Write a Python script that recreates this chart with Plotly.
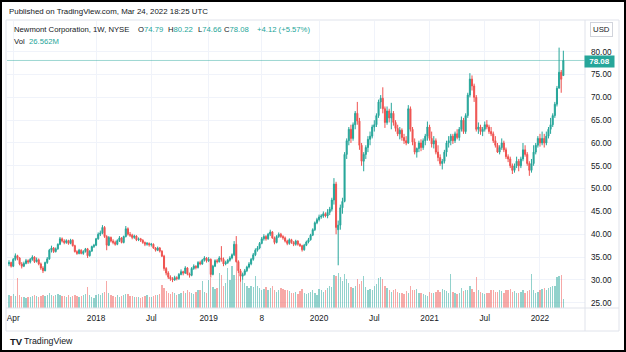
import pandas as pd
import plotly.graph_objects as go

# ---------------- data (weekly NEM) ----------------
start_week = "2017-03-20"
n_weeks = 262

opens = [
 33.5, 33.8, 33.0, 34.5, 35.3, 34.8, 33.5, 33.0, 33.6, 34.2,
 33.9, 34.5, 35.0, 34.0, 34.4, 33.5, 32.6, 32.0, 33.8, 34.6,
 36.5, 37.0, 36.2, 36.8, 37.8, 39.0, 38.5, 38.2, 38.6, 38.0,
 38.7, 37.5, 36.2, 35.8, 36.5, 35.8, 36.2, 36.8, 35.3, 36.3,
 37.3, 37.6, 39.0, 40.0, 40.3, 41.5, 39.5, 37.6, 39.3, 38.5,
 38.2, 37.8, 38.6, 39.2, 38.2, 39.5, 41.2, 40.0, 39.8, 39.3,
 39.6, 38.8, 39.0, 38.7, 38.2, 37.8, 38.0, 37.7, 37.8, 37.0,
 36.5, 37.0, 36.3, 35.2, 32.5, 31.5, 30.6, 30.2, 30.0, 30.5,
 30.3, 31.2, 31.8, 31.5, 32.6, 31.3, 31.0, 32.5, 33.0, 32.7,
 33.8, 33.5, 34.3, 34.8, 34.2, 34.5, 31.2, 33.0, 34.2, 34.0,
 34.8, 34.5, 33.5, 33.8, 34.3, 34.8, 35.5, 37.8, 34.0, 32.0,
 30.8, 31.2, 32.0, 32.8, 33.5, 34.5, 35.5, 36.5, 37.0, 38.0,
 39.0, 39.5, 39.0, 40.0, 40.5, 39.2, 38.2, 39.5, 40.0, 39.5,
 39.2, 38.5, 38.0, 38.8, 38.2, 37.8, 38.5, 37.8, 37.5, 36.6,
 37.6, 38.3, 38.8, 39.8, 41.0, 42.5, 43.2, 43.8, 44.0, 44.5,
 44.0, 44.8, 45.5, 47.5, 51.0, 41.0, 42.0, 45.8, 47.2, 57.5,
 60.5, 63.0, 61.0, 64.0, 66.5, 64.8, 59.5, 56.0, 57.5, 59.0,
 60.8, 61.5, 63.5, 64.0, 66.0, 69.0, 69.8, 67.5, 64.5, 67.0,
 65.5, 66.5, 64.5, 63.2, 62.0, 62.8, 61.2, 60.5, 60.0, 67.5,
 63.0, 60.2, 58.0, 58.8, 60.0, 59.0, 60.5, 61.5, 63.5, 61.0,
 59.8, 60.5, 58.0, 56.8, 55.5, 56.0, 58.0, 60.0, 60.5, 61.5,
 60.5, 62.0, 61.2, 63.0, 65.0, 62.5, 66.0, 70.5, 74.0, 72.5,
 70.0, 63.0, 63.5, 62.5, 63.0, 64.0, 63.5, 62.5, 62.0, 60.5,
 59.5, 58.0, 59.0, 60.0, 58.5, 57.0, 56.5, 55.0, 54.0, 55.0,
 56.0, 55.0, 56.5, 58.5, 57.5, 55.5, 54.0, 55.5, 58.0, 59.5,
 61.0, 60.0, 61.0, 60.0, 61.5, 63.0, 64.0, 66.0, 68.5, 72.0,
 75.5, 74.79]

highs = [
 34.3, 34.0, 34.8, 35.8, 35.5, 35.0, 33.9, 34.0, 34.6, 34.5,
 34.8, 35.4, 35.2, 34.9, 34.7, 33.8, 33.0, 34.0, 35.0, 36.8,
 37.5, 37.2, 37.1, 38.0, 39.4, 39.3, 38.9, 38.9, 38.8, 39.0,
 38.9, 37.7, 36.5, 36.8, 36.7, 36.5, 37.0, 37.0, 36.5, 37.5,
 37.9, 39.2, 40.4, 40.8, 42.0, 41.8, 39.8, 39.6, 39.5, 38.9,
 38.6, 38.9, 39.6, 39.4, 39.7, 41.8, 41.5, 40.5, 40.1, 39.9,
 39.8, 39.3, 39.2, 38.9, 38.4, 38.3, 38.2, 38.1, 38.0, 37.2,
 37.3, 37.2, 36.5, 35.5, 32.8, 31.9, 31.0, 30.6, 30.9, 30.8,
 31.5, 32.3, 32.0, 33.0, 32.8, 31.6, 32.8, 33.4, 33.2, 34.1,
 34.2, 34.6, 35.2, 35.0, 35.0, 34.7, 33.3, 34.5, 34.6, 35.2,
 37.4, 34.9, 34.2, 34.6, 35.2, 35.8, 38.5, 39.6, 34.3, 32.4,
 31.6, 32.4, 33.1, 33.9, 34.8, 35.9, 36.9, 37.4, 38.3, 39.4,
 40.0, 39.8, 40.3, 41.0, 40.7, 39.5, 39.8, 40.4, 40.3, 39.8,
 39.5, 38.8, 39.1, 39.0, 38.5, 38.8, 38.7, 38.0, 37.7, 37.9,
 38.6, 39.2, 40.1, 41.3, 42.8, 43.6, 44.3, 44.4, 45.0, 44.8,
 45.5, 46.0, 48.0, 52.3, 51.5, 43.0, 46.5, 48.0, 58.0, 61.0,
 63.5, 64.0, 64.5, 67.0, 69.0, 65.5, 60.0, 58.0, 59.5, 61.5,
 62.5, 64.0, 65.0, 66.5, 69.5, 70.5, 72.2, 68.0, 68.0, 67.5,
 68.8, 67.0, 65.0, 64.0, 63.5, 63.2, 62.0, 61.5, 68.3, 68.0,
 63.5, 61.0, 59.0, 60.5, 60.8, 61.0, 62.0, 64.7, 64.0, 62.5,
 61.5, 61.0, 59.5, 57.5, 56.5, 58.5, 60.5, 61.5, 62.0, 62.0,
 62.5, 63.0, 63.5, 65.8, 65.5, 66.5, 71.0, 75.3, 74.8, 73.0,
 70.5, 64.5, 64.0, 63.5, 64.7, 65.0, 64.0, 63.5, 62.5, 61.5,
 60.0, 59.5, 61.0, 60.5, 59.0, 57.5, 57.0, 55.5, 55.5, 57.0,
 56.5, 57.0, 60.0, 59.5, 58.0, 56.0, 56.5, 59.5, 60.0, 61.5,
 62.0, 62.5, 62.0, 62.5, 63.5, 65.5, 66.5, 69.0, 72.5, 80.9,
 76.0, 80.22]

lows = [
 33.0, 32.7, 32.8, 34.2, 34.3, 33.2, 32.5, 32.8, 33.4, 33.5,
 33.6, 34.2, 33.7, 33.8, 33.2, 32.2, 31.5, 31.9, 33.5, 34.4,
 36.0, 35.9, 36.0, 36.6, 37.6, 38.2, 37.8, 37.9, 37.7, 37.8,
 37.3, 36.0, 35.5, 35.6, 35.6, 35.5, 36.0, 34.8, 35.1, 36.2,
 37.0, 37.4, 38.8, 39.6, 40.0, 39.2, 36.5, 37.4, 38.2, 37.8,
 37.5, 37.6, 38.3, 38.0, 38.0, 39.3, 39.7, 39.4, 38.9, 39.0,
 38.5, 38.5, 38.3, 37.9, 37.4, 37.5, 37.3, 37.3, 36.8, 36.2,
 36.3, 36.0, 35.0, 32.0, 31.0, 30.2, 29.8, 29.5, 29.8, 29.9,
 30.0, 31.0, 31.0, 31.3, 31.0, 30.5, 30.8, 32.2, 32.3, 32.5,
 33.2, 33.3, 34.0, 33.8, 33.9, 30.5, 31.0, 32.8, 33.6, 33.8,
 34.0, 33.0, 33.2, 33.5, 34.0, 34.5, 35.2, 33.8, 31.5, 29.6,
 30.0, 30.9, 31.7, 32.5, 33.2, 34.2, 35.2, 36.2, 36.7, 37.8,
 38.6, 38.6, 38.8, 39.6, 39.0, 37.8, 38.0, 39.2, 39.2, 38.8,
 38.2, 37.6, 37.7, 37.9, 37.4, 37.5, 37.5, 37.2, 36.2, 36.4,
 37.4, 38.0, 38.6, 39.6, 40.7, 42.2, 42.8, 43.4, 43.6, 43.7,
 43.5, 44.2, 45.0, 46.5, 40.0, 33.2, 41.0, 44.5, 47.0, 56.5,
 59.5, 60.0, 60.5, 63.0, 64.0, 58.5, 55.0, 53.8, 56.5, 58.0,
 59.5, 61.0, 62.5, 63.5, 65.5, 67.5, 66.5, 63.3, 64.0, 64.5,
 63.0, 63.8, 62.5, 61.5, 60.8, 60.5, 59.8, 59.5, 59.8, 62.5,
 59.5, 57.5, 56.8, 58.0, 58.2, 58.5, 59.5, 60.5, 60.5, 59.0,
 58.8, 57.5, 56.0, 55.0, 54.2, 55.5, 57.0, 59.0, 59.5, 59.8,
 60.0, 60.8, 60.5, 62.5, 62.0, 62.0, 65.5, 70.0, 71.5, 69.0,
 62.5, 62.0, 61.8, 61.5, 62.5, 63.0, 62.0, 61.5, 60.0, 59.0,
 57.8, 57.5, 58.5, 58.0, 56.5, 55.8, 54.5, 53.2, 53.5, 54.5,
 53.8, 54.5, 56.0, 57.0, 55.0, 52.8, 53.5, 55.0, 57.5, 59.0,
 59.2, 59.5, 59.0, 59.5, 61.0, 62.0, 63.5, 65.5, 68.0, 72.0,
 71.0, 74.66]

closes = [
 33.8, 33.0, 34.5, 35.3, 34.8, 33.5, 33.0, 33.6, 34.2, 33.9,
 34.5, 35.0, 34.0, 34.4, 33.5, 32.6, 32.0, 33.8, 34.6, 36.5,
 37.0, 36.2, 36.8, 37.8, 39.0, 38.5, 38.2, 38.6, 38.0, 38.7,
 37.5, 36.2, 35.8, 36.5, 35.8, 36.2, 36.8, 35.3, 36.3, 37.3,
 37.6, 39.0, 40.0, 40.3, 41.5, 39.5, 37.6, 39.3, 38.5, 38.2,
 37.8, 38.6, 39.2, 38.2, 39.5, 41.2, 40.0, 39.8, 39.3, 39.6,
 38.8, 39.0, 38.7, 38.2, 37.8, 38.0, 37.7, 37.8, 37.0, 36.5,
 37.0, 36.3, 35.2, 32.5, 31.5, 30.6, 30.2, 30.0, 30.5, 30.3,
 31.2, 31.8, 31.5, 32.6, 31.3, 31.0, 32.5, 33.0, 32.7, 33.8,
 33.5, 34.3, 34.8, 34.2, 34.5, 31.2, 33.0, 34.2, 34.0, 34.8,
 34.5, 33.5, 33.8, 34.3, 34.8, 35.5, 37.8, 34.0, 32.0, 30.8,
 31.2, 32.0, 32.8, 33.5, 34.5, 35.5, 36.5, 37.0, 38.0, 39.0,
 39.5, 39.0, 40.0, 40.5, 39.2, 38.2, 39.5, 40.0, 39.5, 39.2,
 38.5, 38.0, 38.8, 38.2, 37.8, 38.5, 37.8, 37.5, 36.6, 37.6,
 38.3, 38.8, 39.8, 41.0, 42.5, 43.2, 43.8, 44.0, 44.5, 44.0,
 44.8, 45.5, 47.5, 51.0, 41.5, 42.0, 45.8, 47.2, 57.5, 60.5,
 63.0, 61.0, 64.0, 66.5, 64.8, 59.5, 56.0, 57.5, 59.0, 60.8,
 61.5, 63.5, 64.0, 66.0, 69.0, 69.8, 67.5, 64.5, 67.0, 65.5,
 66.5, 64.5, 63.2, 62.0, 62.8, 61.2, 60.5, 60.0, 67.5, 63.0,
 60.2, 58.0, 58.8, 60.0, 59.0, 60.5, 61.5, 63.5, 61.0, 59.8,
 60.5, 58.0, 56.8, 55.5, 56.0, 58.0, 60.0, 60.5, 61.5, 60.5,
 62.0, 61.2, 63.0, 65.0, 62.5, 66.0, 70.5, 74.0, 72.5, 70.0,
 63.0, 63.5, 62.5, 63.0, 64.0, 63.5, 62.5, 62.0, 60.5, 59.5,
 58.0, 59.0, 60.0, 58.5, 57.0, 56.5, 55.0, 54.0, 55.0, 56.0,
 55.0, 56.5, 58.5, 57.5, 55.5, 54.0, 55.5, 58.0, 59.5, 61.0,
 60.0, 61.0, 60.0, 61.5, 63.0, 64.0, 66.0, 68.5, 72.0, 75.5,
 73.96, 78.08]

volumes_m = [
 38, 34, 40, 33, 85, 36, 32, 30, 29, 31,
 30, 33, 36, 34, 30, 33, 38, 34, 37, 42,
 36, 33, 37, 40, 38, 34, 33, 31, 36, 32,
 35, 37, 33, 30, 34, 36, 39, 60, 37, 30,
 28, 36, 40, 38, 42, 47, 78, 44, 38, 35,
 32, 36, 31, 33, 38, 41, 39, 35, 33, 32,
 30, 32, 29, 31, 33, 36, 32, 30, 34, 36,
 38, 40, 66, 56, 48, 42, 40, 46, 44, 38,
 40, 44, 48, 42, 52, 46, 43, 40, 47, 50,
 52, 78, 46, 42, 80, 85, 60, 55, 58, 100,
 95, 62, 70, 115, 80, 120, 95, 165, 110, 85,
 80, 70, 62, 58, 64, 60, 90, 62, 56, 50,
 54, 60, 52, 57, 64, 50, 47, 52, 58, 54,
 50, 52, 48, 44, 42, 46, 40, 48, 54, 42,
 40, 44, 47, 50, 42, 37, 54, 50, 47, 52,
 56, 62, 60, 95, 90, 100, 88, 78, 96, 84,
 72, 60, 57, 64, 82, 68, 78, 90, 60, 52,
 54, 50, 62, 68, 86, 88, 84, 64, 57, 52,
 47, 50, 54, 46, 44, 42, 40, 48, 44, 64,
 52, 50, 54, 42, 44, 40, 37, 35, 47, 44,
 42, 46, 50, 45, 54, 52, 48, 44, 98, 47,
 42, 40, 44, 57, 48, 52, 50, 62, 54, 46,
 88, 52, 46, 42, 40, 44, 42, 50, 52, 47,
 46, 50, 48, 44, 52, 50, 54, 46, 48, 42,
 44, 47, 50, 42, 48, 52, 98, 52, 44, 47,
 50, 54, 58, 52, 56, 60, 64, 62, 88, 92,
 95, 26.562]

tick_dates = ["2017-04-03", "2018-01-01", "2018-07-02", "2019-01-07", "2019-07-01",
              "2020-01-06", "2020-07-06", "2021-01-04", "2021-07-05", "2022-01-03"]
tick_labels = ["Apr", "2018", "Jul", "2019", "8", "2020", "Jul", "2021", "Jul", "2022"]
price_ticks = [25, 30, 35, 40, 45, 50, 55, 60, 65, 70, 75, 80]

# ---------------- figure ----------------
W, H = 626, 352
ML, MR, MT, MB = 7, 41, 21, 44
PW, PH = W - ML - MR, H - MT - MB

def px(x):
    return (x - ML) / PW

def py(y):
    return (H - MB - y) / PH

dates = pd.date_range(start_week, periods=n_weeks, freq="7D")
week = pd.Timedelta(days=7)
x0 = pd.Timestamp(start_week) - week * 0.94
x1 = pd.Timestamp(start_week) + week * 271.2

UP, DN = "#26a69a", "#ef5350"
UPV, DNV = "rgba(38,166,154,0.5)", "rgba(239,83,80,0.5)"
vcols = [UPV if c >= o else DNV for o, c in zip(opens, closes)]

FONT = "Liberation Sans, Arial, sans-serif"
TXT = "#131722"

fig = go.Figure()
fig.add_trace(go.Bar(
    x=dates, y=volumes_m, yaxis="y2", marker=dict(color=vcols, line=dict(width=0)),
    width=7 * 86400000 * 0.62, hoverinfo="skip", showlegend=False))
fig.add_trace(go.Candlestick(
    x=dates, open=opens, high=highs, low=lows, close=closes,
    increasing=dict(line=dict(color=UP, width=1), fillcolor=UP),
    decreasing=dict(line=dict(color=DN, width=1), fillcolor=DN),
    whiskerwidth=0, showlegend=False))

shapes = [
    dict(type="line", xref="paper", yref="y", x0=0, x1=1, y0=78.08, y1=78.08,
         line=dict(color="rgba(38,166,154,0.45)", width=1)),
    dict(type="rect", xref="paper", yref="paper", x0=px(6), x1=px(619), y0=py(20), y1=py(331),
         line=dict(color="#e0e3eb", width=1)),
    dict(type="line", xref="paper", yref="paper", x0=px(6), x1=px(619), y0=0, y1=0,
         line=dict(color="#e0e3eb", width=1)),
    dict(type="line", xref="paper", yref="paper", x0=1, x1=1, y0=py(20), y1=py(331),
         line=dict(color="#e0e3eb", width=1)),
    dict(type="rect", xref="paper", yref="paper", x0=px(1), x1=px(625), y0=py(1), y1=py(351),
         line=dict(color="#000000", width=2)),
]

T = "<span style='color:#26a69a'>%s</span>"
ann = []
def add(x, y, text, size=8.5, color=TXT, **kw):
    d = dict(xref="paper", yref="paper", x=px(x), y=py(y), text=text, showarrow=False,
             xanchor=kw.pop("xanchor", "left"), yanchor="middle",
             font=dict(family=FONT, size=size, color=color))
    d.update(kw)
    ann.append(d)

LS = 7.7
add(7, 11, "Published on TradingView.com, Mar 24, 2022 18:25 UTC", size=7.9)
add(12, 29, "Newmont Corporation, 1W, NYSE", size=LS)
add(136, 29, "O" + T % "74.79", size=LS)
add(166, 29, "H" + T % "80.22", size=LS)
add(196, 29, "L" + T % "74.66", size=LS)
add(222, 29, "C" + T % "78.08", size=LS)
add(255, 29, T % "+4.12 (+5.57%)", size=LS)
add(12, 41, "Vol  " + T % "26.562M", size=LS)
add(601, 29, "USD", size=7.8, xanchor="center", bordercolor="#d1d4dc", borderwidth=1, borderpad=2)
add(599.5, 61.5, "<b>78.08</b>", size=8, color="#ffffff", xanchor="center",
    bgcolor=UP, width=27, height=9)
add(8, 341, "<b>TV</b>", size=9.5)
add(22, 341, "TradingView", size=8.8)

fig.update_layout(
    width=W, height=H, margin=dict(l=ML, r=MR, t=MT, b=MB),
    paper_bgcolor="white", plot_bgcolor="white",
    font=dict(family=FONT, size=8.5, color=TXT),
    showlegend=False, bargap=0,
    xaxis=dict(type="date", range=[x0, x1], rangeslider=dict(visible=False),
               tickvals=list(pd.to_datetime(tick_dates)), ticktext=tick_labels,
               showgrid=True, gridcolor="#f0f3fa", gridwidth=1, zeroline=False,
               showline=False, ticks="", ticklabelstandoff=4,
               tickfont=dict(size=8.3, color=TXT)),
    yaxis=dict(side="right", range=[23.84, 86.73], tickvals=price_ticks,
               ticktext=["%.2f" % v for v in price_ticks],
               showgrid=True, gridcolor="#f0f3fa", gridwidth=1, zeroline=False,
               showline=False, ticks="", ticklabelstandoff=5,
               tickfont=dict(size=8.2, color=TXT)),
    yaxis2=dict(overlaying="y", range=[0, 818], visible=False, showgrid=False),
    shapes=shapes, annotations=ann,
)

fig.write_html("out.html")
